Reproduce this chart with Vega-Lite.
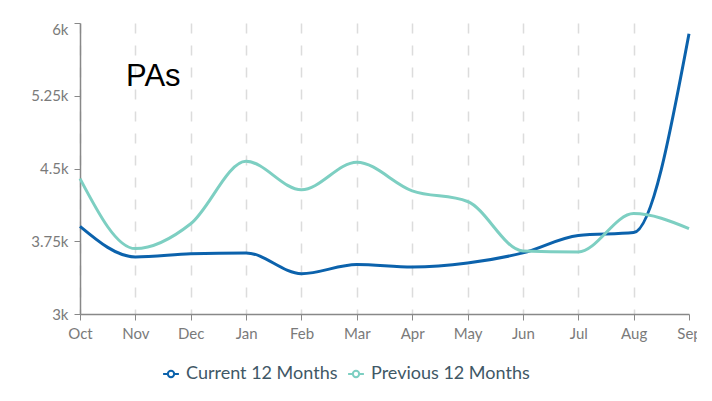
{
  "$schema": "https://vega.github.io/schema/vega-lite/v6.json",
  "width": 609,
  "height": 291,
  "autosize": {"type": "none"},
  "padding": {"left": 80, "top": 23, "right": 8, "bottom": 87},
  "background": "white",
  "title": {"text": "PAs", "anchor": "start", "frame": "group", "offset": 0, "dx": 46, "dy": 71, "fontSize": 31, "fontWeight": "normal", "font": "Liberation Sans", "color": "#000000"},
  "data": {"values": [
    {"month": "Oct", "series": "Current 12 Months", "value": 3904},
    {"month": "Nov", "series": "Current 12 Months", "value": 3588},
    {"month": "Dec", "series": "Current 12 Months", "value": 3620},
    {"month": "Jan", "series": "Current 12 Months", "value": 3630},
    {"month": "Feb", "series": "Current 12 Months", "value": 3416},
    {"month": "Mar", "series": "Current 12 Months", "value": 3510},
    {"month": "Apr", "series": "Current 12 Months", "value": 3485},
    {"month": "May", "series": "Current 12 Months", "value": 3525},
    {"month": "Jun", "series": "Current 12 Months", "value": 3630},
    {"month": "Jul", "series": "Current 12 Months", "value": 3810},
    {"month": "Aug", "series": "Current 12 Months", "value": 3840},
    {"month": "Sep", "series": "Current 12 Months", "value": 5890},
    {"month": "Oct", "series": "Previous 12 Months", "value": 4396},
    {"month": "Nov", "series": "Previous 12 Months", "value": 3674},
    {"month": "Dec", "series": "Previous 12 Months", "value": 3930},
    {"month": "Jan", "series": "Previous 12 Months", "value": 4574},
    {"month": "Feb", "series": "Previous 12 Months", "value": 4280},
    {"month": "Mar", "series": "Previous 12 Months", "value": 4565},
    {"month": "Apr", "series": "Previous 12 Months", "value": 4270},
    {"month": "May", "series": "Previous 12 Months", "value": 4160},
    {"month": "Jun", "series": "Previous 12 Months", "value": 3650},
    {"month": "Jul", "series": "Previous 12 Months", "value": 3640},
    {"month": "Aug", "series": "Previous 12 Months", "value": 4035},
    {"month": "Sep", "series": "Previous 12 Months", "value": 3880}
  ]},
  "mark": {"type": "line", "interpolate": "monotone", "strokeWidth": 3},
  "encoding": {
    "x": {
      "field": "month", "type": "ordinal",
      "sort": ["Oct","Nov","Dec","Jan","Feb","Mar","Apr","May","Jun","Jul","Aug","Sep"],
      "scale": {"type": "point", "padding": 0},
      "axis": {
        "title": null, "labelAngle": 0, "labelFont": "Lato", "labelFontSize": 15, "labelColor": "#7a7a7a",
        "labelPadding": 6, "tickSize": 6, "tickColor": "#888888", "domainColor": "#888888", "domainWidth": 1.5,
        "grid": true, "gridColor": "#dcdcdc", "gridDash": [10, 12], "gridWidth": 1.5,
        "gridOpacity": {"condition": {"test": "datum.value == 'Sep'", "value": 0}, "value": 1}
      }
    },
    "y": {
      "field": "value", "type": "quantitative",
      "scale": {"domain": [3000, 6000], "nice": false, "zero": false},
      "axis": {
        "title": null, "values": [3000, 3750, 4500, 5250, 6000],
        "labelExpr": "datum.value / 1000 + 'k'",
        "labelFont": "Lato", "labelFontSize": 15, "labelColor": "#7a7a7a", "labelPadding": 6,
        "labelOffset": {"condition": {"test": "datum.value == 6000", "value": 6}, "value": 0},
        "tickSize": 6, "tickColor": "#888888", "domainColor": "#888888", "domainWidth": 1.5, "grid": false
      }
    },
    "color": {
      "field": "series", "type": "nominal",
      "scale": {"domain": ["Current 12 Months", "Previous 12 Months"], "range": ["#0b62ac", "#7dcfc2"]},
      "legend": {
        "title": null, "orient": "none", "direction": "horizontal", "legendX": 82, "legendY": 342,
        "symbolType": "M -1 0 L -0.4 0 M 0.4 0 L 1 0 M -0.4 0 A 0.4 0.4 0 1 1 0.4 0 A 0.4 0.4 0 1 1 -0.4 0",
        "symbolSize": 250, "symbolStrokeWidth": 2, "symbolFillColor": "white",
        "labelFont": "Lato", "labelFontSize": 18, "labelColor": "#3f5866", "columnPadding": 6, "labelOffset": 6
      }
    }
  },
  "config": {"view": {"stroke": null}}
}
